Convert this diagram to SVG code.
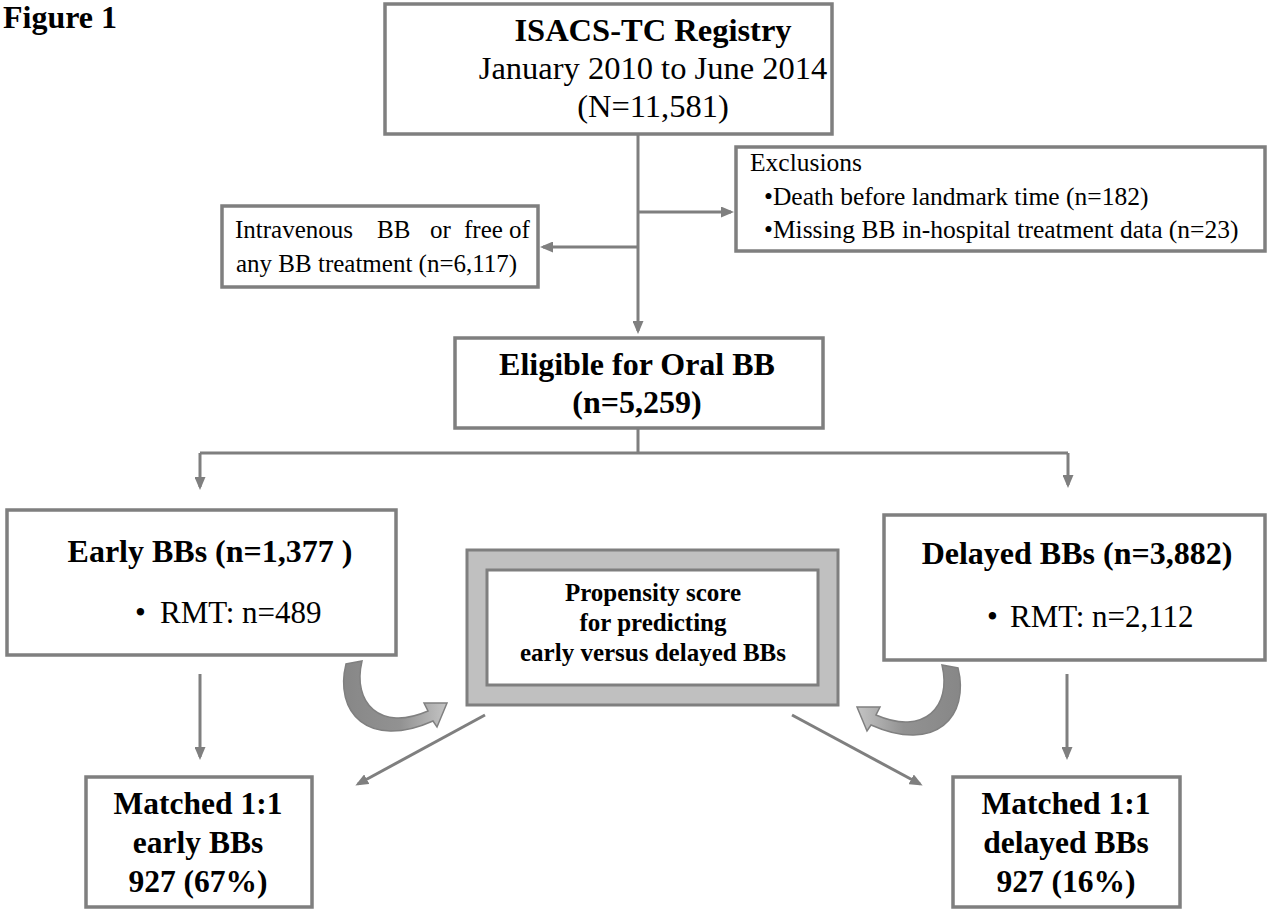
<svg xmlns="http://www.w3.org/2000/svg" width="1274" height="910" viewBox="0 0 1274 910">
<style>
.box{fill:#fff;stroke:#7f7f7f;stroke-width:3.5}
.conn{fill:none;stroke:#7f7f7f;stroke-width:3}
.t{font-family:"Liberation Serif","Times New Roman",serif;fill:#000}
.b{font-weight:bold}
.c{text-anchor:middle}
.f32{font-size:32px}
.f31{font-size:31px}
.f25{font-size:25px}
</style>
<defs>
<marker id="ah" viewBox="0 0 13 11" refX="10" refY="5.5" markerWidth="13" markerHeight="11" orient="auto" markerUnits="userSpaceOnUse">
<path d="M0,0 L13,5.5 L0,11 Z" fill="#7f7f7f"/>
</marker>
<linearGradient id="cg" x1="0" y1="0" x2="1" y2="0">
<stop offset="0" stop-color="#878787"/>
<stop offset="0.55" stop-color="#929292"/>
<stop offset="1" stop-color="#c4c4c4"/>
</linearGradient>
<path id="curve" d="M362 661 C352 703 380 732 428 711 L424 703 L447 703 L437 727 L433 721 C368 750 334 712 346 664 Z"/>
</defs>
<rect width="1274" height="910" fill="#fff"/>
<text class="t b" x="3" y="28" font-size="32">Figure 1</text>
<g id="connectors">
<path class="conn" d="M638 135 V331" marker-end="url(#ah)"/>
<path class="conn" d="M638 212 H731" marker-end="url(#ah)"/>
<path class="conn" d="M638 247 H543" marker-end="url(#ah)"/>
<path class="conn" d="M638 428 V453 M200 453 H1068"/>
<path class="conn" d="M200 453 V487" marker-end="url(#ah)"/>
<path class="conn" d="M1068 453 V485" marker-end="url(#ah)"/>
<path class="conn" d="M200 674 V757" marker-end="url(#ah)"/>
<path class="conn" d="M1067 674 V757" marker-end="url(#ah)"/>
<path class="conn" d="M485 715 L358 784" marker-end="url(#ah)"/>
<path class="conn" d="M792 715 L920 784" marker-end="url(#ah)"/>
<use href="#curve" fill="url(#cg)" stroke="#808080" stroke-width="1.5"/>
<use href="#curve" fill="url(#cg)" stroke="#808080" stroke-width="1.5" transform="translate(1304,4) scale(-1,1)"/>
</g>
<g id="registry">
<rect class="box" x="385" y="4" width="447" height="130"/>
<text class="t b c" x="653" y="41" font-size="32.5">ISACS-TC Registry</text>
<text class="t c" x="653" y="79" font-size="32.5">January 2010 to June 2014</text>
<text class="t c" x="653" y="117" font-size="32.5">(N=11,581)</text>
</g>
<g id="exclusions">
<rect class="box" x="736" y="147" width="529" height="104"/>
<text class="t" x="750" y="171" font-size="25.5">Exclusions</text>
<text class="t" x="764" y="205" font-size="25.5">•Death before landmark time (n=182)</text>
<text class="t" x="764" y="238" font-size="25.5">•Missing BB in-hospital treatment data (n=23)</text>
</g>
<g id="intravenous">
<rect class="box" x="222" y="206" width="316" height="81"/>
<text class="t f25" y="238"><tspan x="235">Intravenous</tspan><tspan x="377">BB</tspan><tspan x="430">or</tspan><tspan x="464">free</tspan><tspan x="509">of</tspan></text>
<text class="t f25" x="236" y="272">any BB treatment (n=6,117)</text>
</g>
<g id="eligible">
<rect class="box" x="455" y="338" width="368" height="90"/>
<text class="t b c f32" x="637" y="375">Eligible for Oral BB</text>
<text class="t b c f32" x="637" y="413">(n=5,259)</text>
</g>
<g id="early">
<rect class="box" x="7" y="510" width="389" height="145"/>
<text class="t b c f32" x="210" y="562">Early BBs (n=1,377 )</text>
<text class="t f31" x="135" y="623">•</text>
<text class="t f31" x="160" y="623">RMT: n=489</text>
</g>
<g id="propensity">
<rect x="467" y="550" width="371" height="155" fill="#c0c0c0" stroke="#7f7f7f" stroke-width="3"/>
<rect x="487" y="570" width="331" height="115" fill="#fff" stroke="#7f7f7f" stroke-width="3"/>
<text class="t b c f25" x="653" y="601">Propensity score</text>
<text class="t b c f25" x="653" y="631">for predicting</text>
<text class="t b c f25" x="653" y="661">early versus delayed BBs</text>
</g>
<g id="delayed">
<rect class="box" x="884" y="515" width="381" height="145"/>
<text class="t b c f32" x="1077" y="564">Delayed BBs (n=3,882)</text>
<text class="t f31" x="987" y="627">•</text>
<text class="t f31" x="1010" y="627">RMT: n=2,112</text>
</g>
<g id="matched-early">
<rect class="box" x="86" y="777" width="226" height="130"/>
<text class="t b c" x="198" y="814" font-size="31.5">Matched 1:1</text>
<text class="t b c" x="198" y="853" font-size="31.5">early BBs</text>
<text class="t b c" x="198" y="892" font-size="31.5">927 (67%)</text>
</g>
<g id="matched-delayed">
<rect class="box" x="953" y="777" width="227" height="130"/>
<text class="t b c" x="1066" y="814" font-size="31.5">Matched 1:1</text>
<text class="t b c" x="1066" y="853" font-size="31.5">delayed BBs</text>
<text class="t b c" x="1066" y="892" font-size="31.5">927 (16%)</text>
</g>
</svg>
